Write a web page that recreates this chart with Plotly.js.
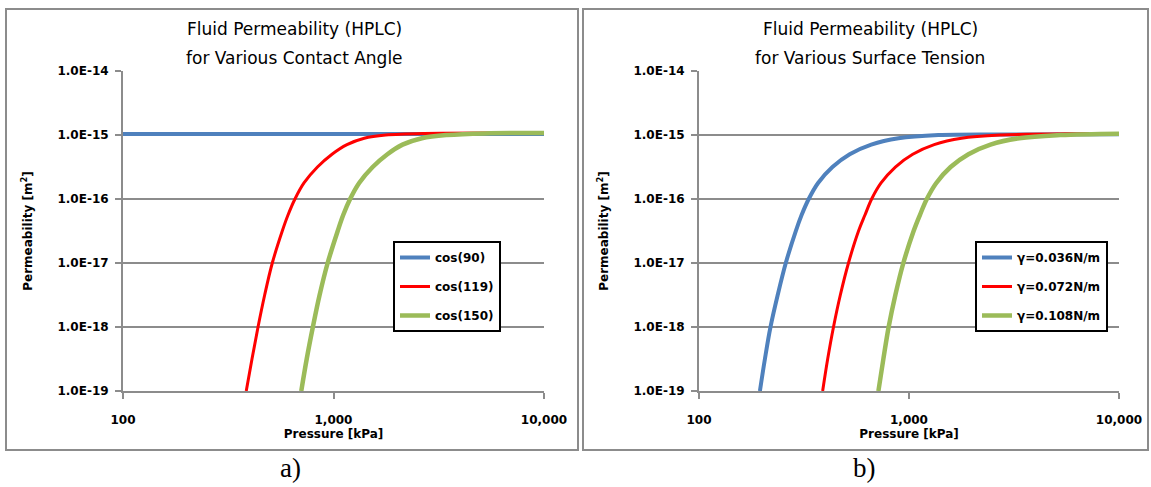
<!DOCTYPE html>
<html>
<head>
<meta charset="utf-8">
<script src="https://cdn.plot.ly/plotly-3.0.1.min.js"></script>
<style>html,body{margin:0;padding:0;background:#fff;}#chart{width:1151px;height:487px;}</style>
</head>
<body>
<div id="chart"></div>
<script>
// ---- Data ----
// Panel a) Contact angle
const pA_cos90 = [100, 1000, 10000];
const kA_cos90 = [1.04e-15, 1.04e-15, 1.04e-15];

const pA_cos119 = [385, 410, 438, 471, 512, 571, 608, 656, 724, 839, 984, 1159, 1400, 1770, 2692, 10000];
const kA_cos119 = [1e-19, 3.16e-19, 1e-18, 3.16e-18, 1e-17, 3.16e-17, 5.62e-17, 1e-16, 1.78e-16, 3.16e-16, 5.01e-16, 7.08e-16, 8.91e-16, 1.0e-15, 1.06e-15, 1.07e-15];

const pA_cos150 = [703, 746, 798, 859, 938, 1047, 1112, 1199, 1324, 1535, 1803, 2128, 2630, 3467, 5248, 10000];
const kA_cos150 = [1e-19, 3.16e-19, 1e-18, 3.16e-18, 1e-17, 3.16e-17, 5.62e-17, 1e-16, 1.78e-16, 3.16e-16, 5.01e-16, 7.08e-16, 8.91e-16, 1.0e-15, 1.06e-15, 1.07e-15];

// Panel b) Surface tension
const pB_g036 = [195, 206, 219, 237, 259, 289, 308, 333, 369, 432, 522, 661, 891, 1380, 3162, 10000];
const kB_g036 = [1e-19, 3.16e-19, 1e-18, 3.16e-18, 1e-17, 3.16e-17, 5.62e-17, 1e-16, 1.78e-16, 3.16e-16, 5.01e-16, 7.08e-16, 8.91e-16, 1.0e-15, 1.02e-15, 1.03e-15];

const pB_g072 = [388, 410, 437, 471, 515, 575, 617, 664, 736, 861, 1042, 1318, 1778, 2754, 6310, 10000];
const kB_g072 = [1e-19, 3.16e-19, 1e-18, 3.16e-18, 1e-17, 3.16e-17, 5.62e-17, 1e-16, 1.78e-16, 3.16e-16, 5.01e-16, 7.08e-16, 8.91e-16, 1.0e-15, 1.05e-15, 1.05e-15];

const pB_g108 = [715, 755, 800, 861, 940, 1052, 1127, 1216, 1349, 1578, 1919, 2443, 3350, 5248, 10000];
const kB_g108 = [1e-19, 3.16e-19, 1e-18, 3.16e-18, 1e-17, 3.16e-17, 5.62e-17, 1e-16, 1.78e-16, 3.16e-16, 5.01e-16, 7.08e-16, 8.91e-16, 1.0e-15, 1.05e-15];

const namesA = ['cos(90)', 'cos(119)', 'cos(150)'];
const namesB = ['γ=0.036N/m', 'γ=0.072N/m', 'γ=0.108N/m'];

const xTickVals = [100, 1000, 10000];
const xTickText = ['100', '1,000', '10,000'];
const yTickVals = [1e-19, 1e-18, 1e-17, 1e-16, 1e-15, 1e-14];
const yTickText = ['1.0E-19', '1.0E-18', '1.0E-17', '1.0E-16', '1.0E-15', '1.0E-14'];

const titlesA = ['Fluid Permeability (HPLC)', 'for Various Contact Angle'];
const titlesB = ['Fluid Permeability (HPLC)', 'for Various Surface Tension'];
const xTitle = 'Pressure [kPa]';
const yTitle = 'Permeability [m<sup>2</sup>]';

// ---- Styling ----
const W = 1151, H = 487;
const px = v => v / W;
const py = v => 1 - v / H;
const BLUE = '#4F81BD', RED = '#FF0000', GREEN = '#9BBB59';
const GRID = '#8C8C8C';
const FONT = '"DejaVu Sans", Verdana, sans-serif';

function tr(x, y, name, color, width, xa, ya, legend, grp) {
  return {x: x, y: y, name: name, type: 'scatter', mode: 'lines',
    line: {color: color, width: width, shape: 'spline', smoothing: 1},
    xaxis: xa, yaxis: ya, legend: legend, legendgroup: grp};
}

const data = [
  tr(pA_cos90, kA_cos90, namesA[0], BLUE, 4, 'x', 'y', 'legend', 'a1'),
  tr(pA_cos119, kA_cos119, namesA[1], RED, 3, 'x', 'y', 'legend', 'a2'),
  tr(pA_cos150, kA_cos150, namesA[2], GREEN, 4.5, 'x', 'y', 'legend', 'a3'),
  tr(pB_g036, kB_g036, namesB[0], BLUE, 4, 'x2', 'y2', 'legend2', 'b1'),
  tr(pB_g072, kB_g072, namesB[1], RED, 3, 'x2', 'y2', 'legend2', 'b2'),
  tr(pB_g108, kB_g108, namesB[2], GREEN, 4.5, 'x2', 'y2', 'legend2', 'b3')
];

const tickFont = {family: FONT, size: 12, color: '#000', weight: 'bold'};

function xax(dom, anchor) {
  return {type: 'log', range: [2, 4], domain: dom, anchor: anchor,
    tickvals: xTickVals, ticktext: xTickText, tickfont: tickFont,
    ticks: 'outside', ticklen: 6, tickwidth: 2, tickcolor: GRID,
    showline: true, linecolor: GRID, linewidth: 2,
    showgrid: false, zeroline: false, ticklabelstandoff: 11,
    title: {text: xTitle, font: tickFont, standoff: 0}};
}
function yax(dom, anchor) {
  return {type: 'log', range: [-19, -14], domain: dom, anchor: anchor,
    tickvals: yTickVals, ticktext: yTickText, tickfont: tickFont,
    ticks: 'outside', ticklen: 6, tickwidth: 2, tickcolor: GRID,
    showline: true, linecolor: GRID, linewidth: 2,
    showgrid: true, gridcolor: GRID, gridwidth: 2, zeroline: false,
    ticklabelstandoff: 4,
    title: {text: yTitle, font: tickFont, standoff: 22}};
}

const yDom = [py(391), py(71)];
const legendStyle = (x) => ({x: px(x), y: py(241), xanchor: 'left', yanchor: 'top',
  bgcolor: '#fff', bordercolor: '#000', borderwidth: 2,
  font: tickFont, tracegroupgap: 10, itemwidth: 30});

const titleFont = {family: FONT, size: 17, color: '#000'};
const ann = [
  {text: titlesA[0], x: px(294), y: py(29)},
  {text: titlesA[1], x: px(294), y: py(58)},
  {text: titlesB[0], x: px(870), y: py(29)},
  {text: titlesB[1], x: px(870), y: py(58)}
].map(a => Object.assign(a, {xref: 'paper', yref: 'paper', showarrow: false,
  xanchor: 'center', yanchor: 'middle', font: titleFont}));
ann.push({text: 'a)', x: px(290), y: py(468), xref: 'paper', yref: 'paper', showarrow: false,
  xanchor: 'center', yanchor: 'middle', font: {family: '"Liberation Serif", serif', size: 27, color: '#000'}});
ann.push({text: 'b)', x: px(864), y: py(468), xref: 'paper', yref: 'paper', showarrow: false,
  xanchor: 'center', yanchor: 'middle', font: {family: '"Liberation Serif", serif', size: 27, color: '#000'}});

const box = (x0, x1) => ({type: 'rect', xref: 'paper', yref: 'paper',
  x0: px(x0), x1: px(x1), y0: py(450), y1: py(9), line: {color: '#8C8C8C', width: 2}});

const layout = {
  width: W, height: H, margin: {l: 0, r: 0, t: 0, b: 0},
  paper_bgcolor: '#fff', plot_bgcolor: '#fff',
  showlegend: true,
  xaxis: xax([px(123), px(544)], 'y'),
  yaxis: yax(yDom, 'x'),
  xaxis2: xax([px(699), px(1119)], 'y2'),
  yaxis2: yax(yDom, 'x2'),
  legend: legendStyle(393),
  legend2: legendStyle(975),
  annotations: ann,
  shapes: [box(6, 578), box(583, 1148)]
};

Plotly.newPlot('chart', data, layout, {displayModeBar: false, staticPlot: true});
</script>
</body>
</html>
